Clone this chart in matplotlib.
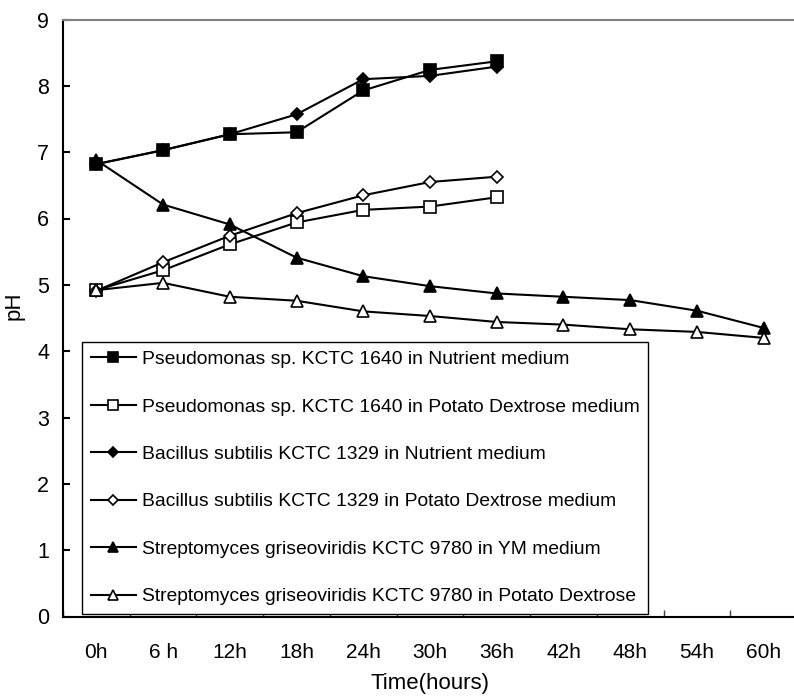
import matplotlib
matplotlib.use("Agg")
import matplotlib.pyplot as plt
from matplotlib.ticker import FixedLocator, NullFormatter

plt.rcParams['font.family'] = ['Liberation Sans', 'DejaVu Sans']

time_labels = ["0h", "6 h", "12h", "18h", "24h", "30h", "36h", "42h", "48h", "54h", "60h"]

pseudo_nutrient = [6.82, 7.03, 7.27, 7.30, 7.93, 8.24, 8.37]
pseudo_pda = [4.92, 5.22, 5.61, 5.94, 6.13, 6.18, 6.32]
bacillus_nutrient = [6.82, 7.03, 7.27, 7.57, 8.10, 8.15, 8.29]
bacillus_pda = [4.91, 5.34, 5.74, 6.08, 6.35, 6.55, 6.63]
strepto_ym = [6.88, 6.21, 5.91, 5.41, 5.13, 4.98, 4.87, 4.82, 4.77, 4.61, 4.35]
strepto_pda = [4.92, 5.03, 4.82, 4.76, 4.60, 4.53, 4.44, 4.40, 4.33, 4.29, 4.20]

series_labels = [
    "Pseudomonas sp. KCTC 1640 in Nutrient medium",
    "Pseudomonas sp. KCTC 1640 in Potato Dextrose medium",
    "Bacillus subtilis KCTC 1329 in Nutrient medium",
    "Bacillus subtilis KCTC 1329 in Potato Dextrose medium",
    "Streptomyces griseoviridis KCTC 9780 in YM medium",
    "Streptomyces griseoviridis KCTC 9780 in Potato Dextrose",
]

series = [pseudo_nutrient, pseudo_pda, bacillus_nutrient, bacillus_pda, strepto_ym, strepto_pda]
styles = [
    dict(marker='s', mfc='black', ms=8),
    dict(marker='s', mfc='white', ms=8),
    dict(marker='D', mfc='black', ms=6.5),
    dict(marker='D', mfc='white', ms=6.5),
    dict(marker='^', mfc='black', ms=9),
    dict(marker='^', mfc='white', ms=9),
]

fig = plt.figure(figsize=(7.94, 7.0), dpi=100)
W, H = 794, 700
ax = fig.add_axes([63 / W, (H - 616.5) / H, 734 / W, 597 / H])

for vals, st, lab in zip(series, styles, series_labels):
    x = list(range(len(vals)))
    ax.plot(x, vals, color='black', lw=1.5, mec='black', mew=1.2, label=lab, **st)

ax.set_xlim(-0.5, 10.5)
ax.set_ylim(0, 9)
ax.set_yticks(range(0, 10))
ax.set_xticks(range(len(time_labels)))
ax.set_xticklabels(time_labels, fontsize=15)
ax.xaxis.set_minor_locator(FixedLocator([i + 0.5 for i in range(-1, 11)]))
ax.xaxis.set_minor_formatter(NullFormatter())
ax.tick_params(axis='x', which='major', length=0, pad=19)
ax.tick_params(axis='x', which='minor', direction='in', length=5, width=1, color='#444444')
ax.tick_params(axis='y', direction='in', length=5, width=1.5, pad=10, labelsize=15.5)

for s in ('left', 'bottom'):
    ax.spines[s].set_linewidth(1.5)
    ax.spines[s].set_color('black')
ax.spines['top'].set_color('#808080')
ax.spines['top'].set_linewidth(1.5)
ax.spines['right'].set_visible(False)

ax.set_xlabel("Time(hours)", fontsize=16, labelpad=8)
ax.set_ylabel("pH", fontsize=16)
ax.yaxis.set_label_coords(-0.053, 0.52)

leg = ax.legend(loc='lower left', bbox_to_anchor=(82 / W, (H - 614) / H),
                bbox_transform=fig.transFigure, borderaxespad=0,
                fontsize=13.9, frameon=True, fancybox=False, framealpha=1,
                edgecolor='black', handlelength=2.35, handletextpad=0.3,
                labelspacing=1.55, borderpad=0.45, markerscale=0.85)
leg.get_frame().set_linewidth(1.0)

fig.savefig("out.png", dpi=100)
